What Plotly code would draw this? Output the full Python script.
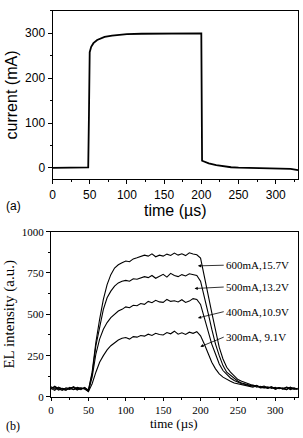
import plotly.graph_objects as go

# ---- panel (a): current pulse ----
cur_time = [0, 20, 40, 47, 48, 49, 50, 52, 55, 60, 65, 70, 80, 90, 100, 120, 150, 180, 199, 200, 201, 205, 210, 220, 230, 240, 250, 270, 300, 320, 330]
cur_mA = [0, 0, 0, 0, 1, 120, 258, 270, 278, 285, 289, 292, 295, 297, 298, 299, 300, 300, 300, 300, 16, 13, 10, 6, 3, 1.5, 0.5, 0, -1, -2, -5]

# ---- panel (b): EL intensity ----
el_time = list(range(0, 335, 5))
el_600 = [62, 48, 55, 45, 40, 58, 44, 52, 50, 56, 42,
          150, 330, 470, 590, 680, 740, 780, 800, 812, 822,
          818, 835, 842, 850, 858, 852, 866, 848, 858, 852, 864, 856, 870, 858, 866, 855, 872, 865, 860,
          840, 740, 620, 510, 400, 300, 230, 180, 150, 125, 105, 95, 85,
          78, 70, 68, 60, 66, 55, 62, 50, 57, 48, 60, 52, 55, 46]
el_500 = [55, 60, 42, 52, 48, 45, 62, 50, 44, 58, 38,
          140, 310, 430, 530, 600, 640, 670, 690, 700, 705,
          700, 715, 712, 720, 728, 722, 735, 718, 730, 742, 725, 748, 735, 728, 740, 732, 745, 738, 735,
          700, 610, 510, 410, 320, 250, 190, 150, 130, 110, 95, 85, 80,
          72, 65, 70, 58, 62, 55, 60, 48, 56, 50, 58, 45, 52, 48]
el_400 = [48, 65, 50, 40, 55, 52, 46, 58, 52, 48, 35,
          120, 260, 350, 410, 450, 480, 500, 520, 530, 545,
          540, 555, 552, 565, 560, 578, 570, 585, 575, 572, 590, 578, 582, 575, 588, 572, 580, 595, 590,
          560, 480, 400, 320, 260, 200, 160, 135, 115, 100, 90, 80, 75,
          68, 72, 60, 65, 55, 62, 52, 58, 50, 55, 45, 60, 48, 50]
el_300 = [52, 40, 60, 50, 45, 55, 58, 42, 55, 50, 32,
          80, 150, 210, 250, 285, 310, 330, 345, 355, 360,
          350, 365, 362, 372, 368, 380, 372, 385, 378, 375, 390, 382, 398, 380, 388, 378, 392, 385, 395,
          370, 320, 260, 210, 170, 140, 120, 105, 95, 85, 80, 72, 70,
          65, 60, 68, 55, 58, 52, 60, 48, 55, 50, 45, 58, 47, 52]

labels = ["600mA,15.7V", "500mA,13.2V", "400mA,10.9V", "300mA, 9.1V"]
label_y = [797, 665, 516, 362]
tip_x = [196.5, 192, 196.5, 199.7]
tip_y = [793, 656, 478, 304]

x_ticks = [0, 50, 100, 150, 200, 250, 300]
cur_ticks = [0, 100, 200, 300]
el_ticks = [0, 250, 500, 750, 1000]

SANS = "Liberation Sans"
SERIF = "Liberation Serif"

fig = go.Figure()
fig.add_trace(go.Scatter(x=cur_time, y=cur_mA, mode="lines", line=dict(color="black", width=1.8),
                         xaxis="x", yaxis="y", showlegend=False))
for s in [el_600, el_500, el_400, el_300]:
    fig.add_trace(go.Scatter(x=el_time, y=s, mode="lines", line=dict(color="black", width=1.1),
                             xaxis="x2", yaxis="y2", showlegend=False))

common_ax = dict(showgrid=False, zeroline=False, showline=True, linecolor="black", linewidth=1,
                 ticks="outside", tickcolor="black", mirror=True)

annotations = []
for lab, ly, tx, ty in zip(labels, label_y, tip_x, tip_y):
    annotations.append(dict(x=tx, y=ty, xref="x2", yref="y2", ax=231, ay=ly, axref="x2", ayref="y2",
                            text=lab, showarrow=True, arrowhead=2, arrowsize=0.8, arrowwidth=0.8,
                            arrowcolor="black", xanchor="left", yanchor="middle",
                            font=dict(family=SERIF, size=11, color="black")))
annotations.append(dict(x=0.003, y=(438 - 206) / 438, xref="paper", yref="paper", text="(a)",
                        showarrow=False, xanchor="left", yanchor="middle",
                        font=dict(family=SANS, size=12, color="black")))
annotations.append(dict(x=0.003, y=(438 - 432) / 438, xref="paper", yref="paper", text="(b)",
                        showarrow=False, xanchor="left", yanchor="middle",
                        font=dict(family=SERIF, size=12, color="black")))
# bottom x-axis title as serif text
annotations.append(dict(x=(48.5 + 297.7) / 2 / 303, y=0, xref="paper", yref="paper",
                        text="time (\u00b5s)", showarrow=False, xanchor="center", yanchor="bottom",
                        borderpad=0, font=dict(family=SERIF, size=13, color="black")))

fig.update_layout(
    width=303, height=438,
    margin=dict(l=0, r=0, t=0, b=0),
    paper_bgcolor="white", plot_bgcolor="white",
    font=dict(family=SERIF, color="black"),
    xaxis=dict(domain=[50 / 303, 298 / 303], anchor="y", range=[0, 330], tickvals=x_ticks, ticklen=4,
               title=dict(text="time (\u00b5s)", font=dict(family=SANS, size=16, color="black"), standoff=1),
               tickfont=dict(family=SANS, size=12, color="black"),
               minor=dict(dtick=25, ticks="outside", ticklen=2, tickcolor="black"),
               **common_ax),
    yaxis=dict(domain=[(438 - 178) / 438, (438 - 5) / 438], anchor="x", range=[-25, 350], tickvals=cur_ticks,
               ticklen=4,
               title=dict(text="current (mA)", font=dict(family=SANS, size=16, color="black"), standoff=3),
               tickfont=dict(family=SANS, size=12, color="black"),
               minor=dict(dtick=50, ticks="outside", ticklen=2, tickcolor="black"),
               **common_ax),
    xaxis2=dict(domain=[48.5 / 303, 297.7 / 303], anchor="y2", range=[0, 330], tickvals=x_ticks, ticklen=3,
                tickfont=dict(family=SERIF, size=11, color="black"),
                minor=dict(dtick=25, ticks="outside", ticklen=2, tickcolor="black"),
                **common_ax),
    yaxis2=dict(domain=[(438 - 402) / 438, (438 - 232) / 438], anchor="x2", range=[0, 1000], tickvals=el_ticks,
                ticklen=4,
                title=dict(text="EL intensity (a.u.)", font=dict(family=SERIF, size=15, color="black"), standoff=3),
                tickfont=dict(family=SERIF, size=11, color="black"),
                minor=dict(dtick=125, ticks="outside", ticklen=2, tickcolor="black"),
                **common_ax),
    annotations=annotations,
)

fig.write_html("out.html")
